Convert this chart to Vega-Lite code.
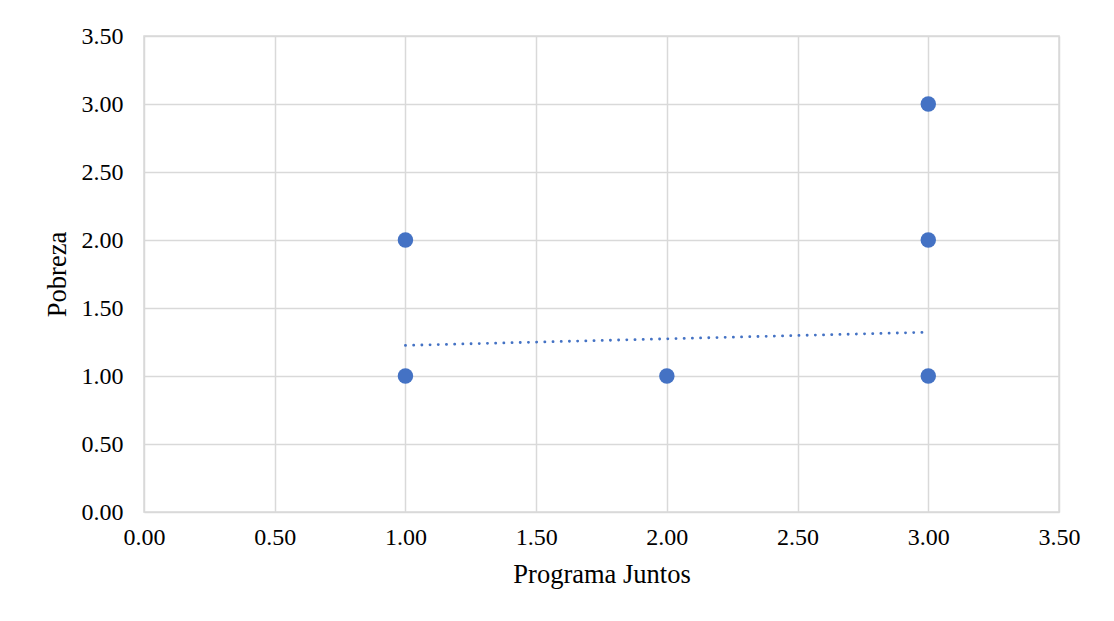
{
  "$schema": "https://vega.github.io/schema/vega-lite/v6.json",
  "autosize": "none",
  "width": 915,
  "height": 476,
  "padding": {"left": 144, "top": 36, "right": 55, "bottom": 109},
  "background": "white",
  "config": {
    "view": {"stroke": "#d9d9d9", "strokeWidth": 1.5},
    "font": "Liberation Serif",
    "axis": {
      "labelFont": "Liberation Serif",
      "titleFont": "Liberation Serif",
      "labelFontSize": 24,
      "titleFontSize": 26.5,
      "labelColor": "#000000",
      "titleColor": "#000000",
      "titleFontWeight": "normal",
      "gridColor": "#d9d9d9",
      "gridWidth": 1.5,
      "domain": false,
      "ticks": false,
      "labelFlush": false,
      "labelOverlap": false
    }
  },
  "datasets": {
    "points": [
      {"juntos": 1, "pobreza": 1},
      {"juntos": 1, "pobreza": 2},
      {"juntos": 2, "pobreza": 1},
      {"juntos": 3, "pobreza": 1},
      {"juntos": 3, "pobreza": 2},
      {"juntos": 3, "pobreza": 3}
    ],
    "trend": [
      {"juntos": 1, "pobreza": 1.225},
      {"juntos": 3, "pobreza": 1.322}
    ]
  },
  "layer": [
    {
      "data": {"name": "trend"},
      "mark": {"type": "line", "color": "#4472C4", "strokeWidth": 2.8, "strokeDash": [0.1, 8.1], "strokeCap": "round"},
      "encoding": {
        "x": {"field": "juntos", "type": "quantitative"},
        "y": {"field": "pobreza", "type": "quantitative"}
      }
    },
    {
      "data": {"name": "points"},
      "mark": {"type": "circle", "color": "#4472C4", "opacity": 1, "size": 240},
      "encoding": {
        "x": {
          "field": "juntos",
          "type": "quantitative",
          "title": "Programa Juntos",
          "scale": {"domain": [0, 3.5], "nice": false, "zero": true},
          "axis": {"values": [0, 0.5, 1, 1.5, 2, 2.5, 3, 3.5], "format": ".2f", "labelPadding": 13, "titlePadding": 12}
        },
        "y": {
          "field": "pobreza",
          "type": "quantitative",
          "title": "Pobreza",
          "scale": {"domain": [0, 3.5], "nice": false, "zero": true},
          "axis": {"values": [0, 0.5, 1, 1.5, 2, 2.5, 3, 3.5], "format": ".2f", "labelPadding": 21, "titlePadding": 10}
        }
      }
    }
  ]
}
